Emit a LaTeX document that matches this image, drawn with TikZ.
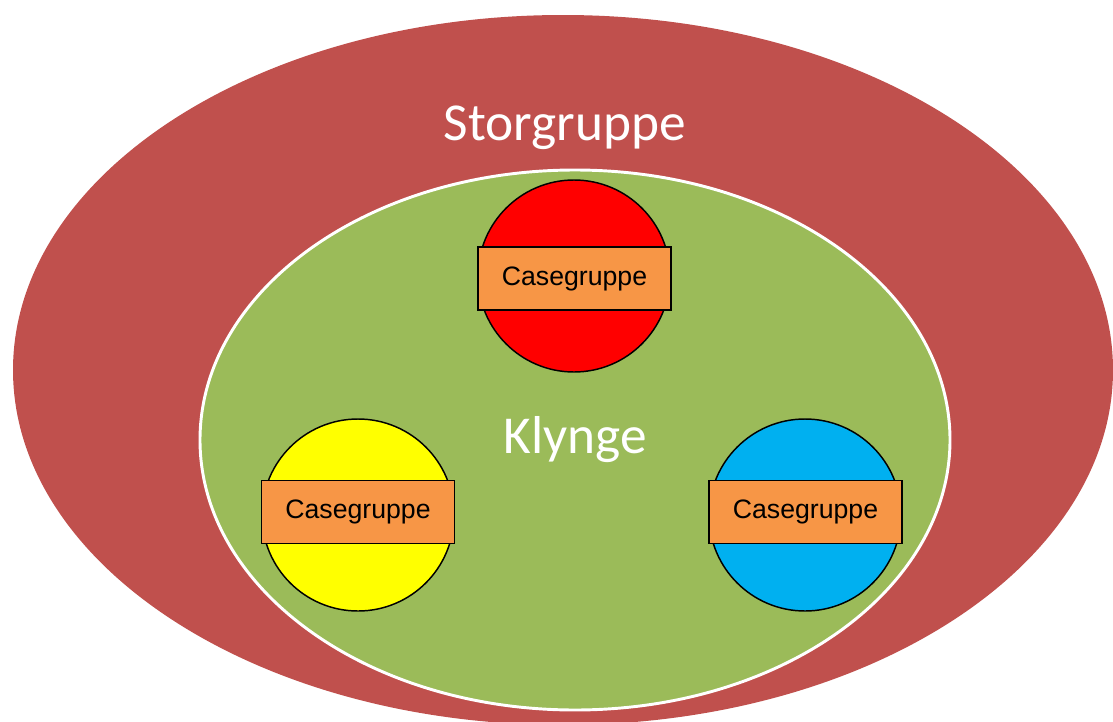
\documentclass[tikz,border=0pt]{standalone}
\usepackage{fontspec}
\setmainfont{Liberation Sans}
\newfontfamily\calibri{Carlito}
\usetikzlibrary{shapes.geometric}
\definecolor{storred}{HTML}{C0504D}
\definecolor{klyngegreen}{HTML}{9BBB59}
\definecolor{caseorange}{HTML}{F79646}
\definecolor{caseblue}{HTML}{00B0F0}
\definecolor{casered}{HTML}{FF0000}
\definecolor{caseyellow}{HTML}{FFFF00}

\begin{document}
\begin{tikzpicture}[x=0.75pt,y=-0.75pt,
  blob/.style={draw=black,line width=1.1pt,shape=circle,minimum size=144pt,inner sep=0pt},
  case/.style={draw=black,line width=1.1pt,fill=caseorange,minimum width=144.5pt,minimum height=47pt,inner sep=0pt,font=\fontsize{20}{24}\selectfont},
  title/.style={text=white,anchor=base,font=\calibri\fontsize{40}{48}\selectfont}]
\useasboundingbox (0,0) rectangle (1113,721);
\clip (0,0) rectangle (1113,721);

% outer and inner groups
\node (stor)   [shape=ellipse,fill=storred,minimum width=825pt,minimum height=532.5pt,inner sep=0pt] at (563,370) {};
\node (klynge) [shape=ellipse,fill=klyngegreen,draw=white,line width=2.2pt,minimum width=562.5pt,minimum height=405pt,inner sep=0pt] at (575,440) {};

\node (storlabel)   [title] at (565,140) {Storgruppe};
\node (klyngelabel) [title] at (575,453) {Klynge};

% case groups
\node (red)    [blob,fill=casered]    at (574,276) {};
\node (yellow) [blob,fill=caseyellow] at (358,515) {};
\node (blue)   [blob,fill=caseblue]   at (805,515) {};

\node (redcase)    [case] at (574.5,278.5) {Casegruppe};
\node (yellowcase) [case] at (358,512)     {Casegruppe};
\node (bluecase)   [case] at (805.5,512)   {Casegruppe};

\end{tikzpicture}
\end{document}
